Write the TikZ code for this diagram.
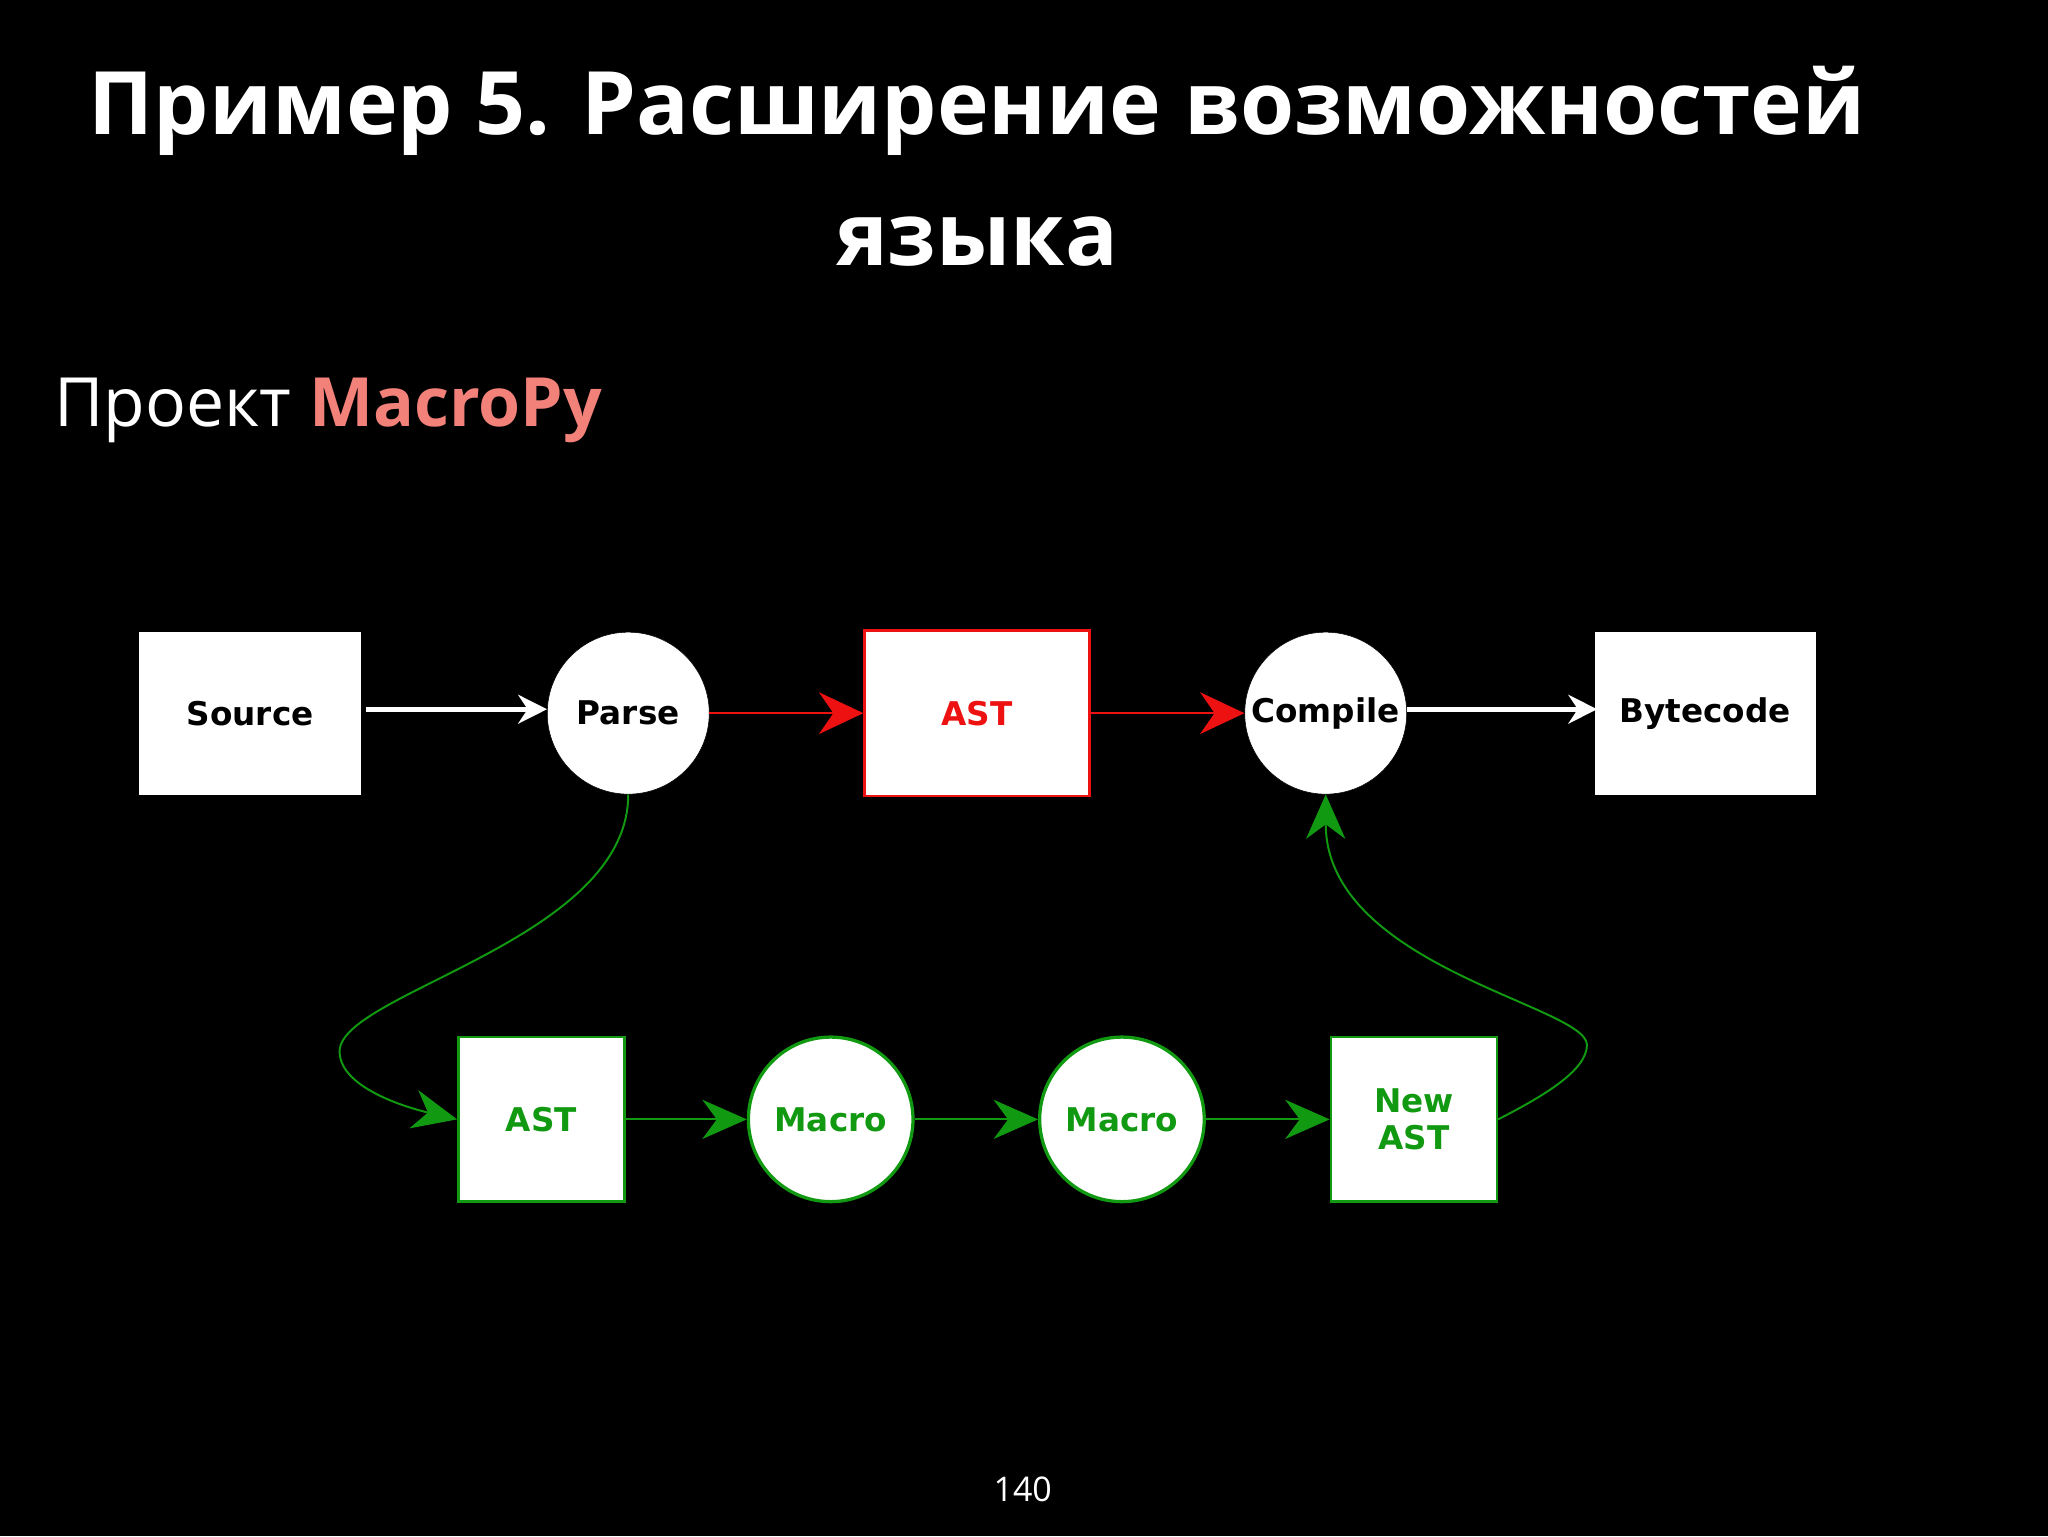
\documentclass[tikz,border=0pt]{standalone}
\usepackage{fontspec}
\setmainfont{Open Sans}
\newfontfamily\diag{DejaVu Sans}
\usetikzlibrary{arrows.meta}
\definecolor{gr}{HTML}{119911}
\definecolor{rd}{HTML}{EE1111}
\definecolor{salmon}{HTML}{F2817A}
\tikzset{
 boxn/.style={draw=white,fill=white,minimum width=169pt,minimum height=124pt,inner sep=0pt,font=\diag\bfseries\fontsize{25}{29}\selectfont},
 circn/.style={circle,draw=black,fill=white,minimum size=124pt,inner sep=0pt,font=\diag\bfseries\fontsize{25}{29}\selectfont},
 gbox/.style={boxn,draw=gr,line width=2pt,minimum width=127pt,minimum height=126pt,text=gr},
 gcirc/.style={circn,draw=gr,line width=2.5pt,minimum size=126pt,text=gr},
 warr/.style={white,line width=4pt,-{Stealth[length=22pt,width=22pt]}},
 rarr/.style={rd,line width=1.2pt,-{Stealth[length=34pt,width=32pt]}},
 garr/.style={gr,line width=1.5pt,-{Stealth[length=34pt,width=30pt]}}
}
\begin{document}
\begin{tikzpicture}[x=1pt,y=-1pt]
\fill[black] (0,0) rectangle (1568,1176);
\node[white,font=\bfseries\fontsize{67}{80}\selectfont] (t1) at (748,85) {Пример 5. Расширение возможностей};
\node[white,font=\bfseries\fontsize{67}{80}\selectfont] (t2) at (748,185) {языка};
\node[white,anchor=west,font=\fontsize{52}{60}\selectfont] (sub) at (38,314) {Проект \textcolor{salmon}{\bfseries MacroPy}};
\node[white,font=\fontsize{26}{30}\selectfont] (pg) at (783,1140) {140};
\node[boxn] (src) at (191.5,546) {Source};
\node[circn] (parse) at (481,546) {Parse};
\node[boxn,draw=rd,line width=2pt,minimum width=172pt,minimum height=127pt,text=rd] (ast) at (748,546) {AST};
\node[circn] (comp) at (1015,546) {Compile};
\node[boxn] (byte) at (1305.5,546) {Bytecode};
\node[gbox] (ast2) at (414.5,857) {AST};
\node[gcirc] (m1) at (636,857) {Macro};
\node[gcirc] (m2) at (859,857) {Macro};
\node[gbox,align=center] (nast) at (1082.5,857) {New\\AST};
\draw[warr] ([xshift=4pt,yshift=3pt]src.east) -- ([yshift=3pt]parse.west);
\draw[warr] ([yshift=3pt]comp.east) -- ([xshift=2pt,yshift=3pt]byte.west);
\draw[rarr] (parse.east) -- (ast.west);
\draw[rarr] (ast.east) -- (comp.west);
\draw[garr] (ast2.east) -- (m1.west);
\draw[garr] (m1.east) -- (m2.west);
\draw[garr] (m2.east) -- (nast.west);
\draw[garr] (parse.south) .. controls (481,720) and (260,760) .. (260,805) .. controls (260,835) and (320,850) .. (ast2.west);
\draw[garr] (nast.east) .. controls (1180,840) and (1215,820) .. (1215,800) .. controls (1215,770) and (1015,740) .. (comp.south);
\end{tikzpicture}
\end{document}
